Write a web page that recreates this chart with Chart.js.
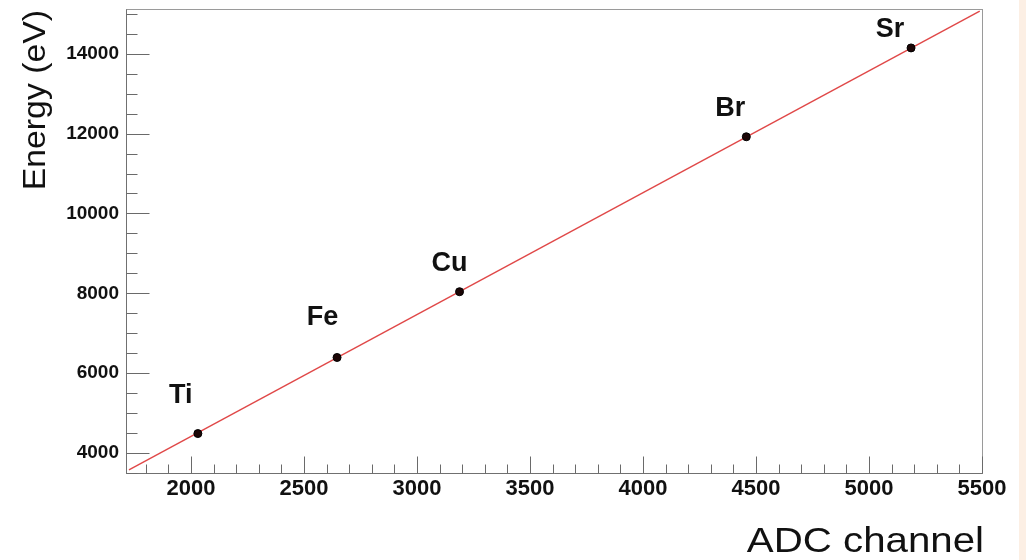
<!DOCTYPE html>
<html>
<head>
<meta charset="utf-8">
<script src="https://cdn.jsdelivr.net/npm/chart.js@4/dist/chart.umd.min.js"></script>
<style>
  html, body { margin: 0; padding: 0; background: #ffffff; }
  #wrap { width: 1026px; height: 560px; position: relative; }
</style>
</head>
<body>
<div id="wrap"><canvas id="c" width="1026" height="560"></canvas></div>
<script>
// ---- data ----
const elements   = ['Ti', 'Fe', 'Cu', 'Br', 'Sr'];
const adcChannel = [2030, 2646, 3188, 4457, 5186];
const energyEV   = [4488, 6393, 8040, 11920, 14145];
// fitted calibration line (end points)
const fitAdc     = [1725, 5490];
const fitEnergy  = [3580, 15066];
// axis ticks
const xTicks = [2000, 2500, 3000, 3500, 4000, 4500, 5000, 5500];
const yTicks = [4000, 6000, 8000, 10000, 12000, 14000];
const xRange = [1712, 5500];
const yRange = [3500, 15120];
const xMinorStep = 100;
const yMinorStep = 500;

const FONT = "'Liberation Sans', Arial, Helvetica, sans-serif";

// label offsets (pixels, relative to each point: centre x, baseline y)
const labelOffsets = [[-17, -31], [-14.5, -32], [-10, -21], [-16, -21], [-21, -11]];

const rootStyle = {
  id: 'rootStyle',
  beforeDraw(chart) {
    const ctx = chart.ctx;
    ctx.save();
    ctx.fillStyle = '#ffffff';
    ctx.fillRect(0, 0, chart.width, chart.height);
    ctx.fillStyle = '#fcefe4';
    ctx.fillRect(1019, 0, 7, chart.height);
    ctx.restore();
  },
  beforeDatasetsDraw(chart) {
    const ctx = chart.ctx;
    const a = chart.chartArea;
    const xs = chart.scales.x, ys = chart.scales.y;
    const L = Math.round(a.left) + 0.5, R = Math.round(a.right) + 0.5;
    const T = Math.round(a.top) + 0.5, B = Math.round(a.bottom) + 0.5;
    ctx.save();
    ctx.lineWidth = 1;
    ctx.strokeStyle = '#9a9a9a';
    ctx.strokeRect(L, T, R - L, B - T);
    ctx.strokeStyle = '#707070';
    ctx.beginPath();
    ctx.moveTo(L, T); ctx.lineTo(L, B); ctx.lineTo(R, B);
    ctx.stroke();
    ctx.strokeStyle = '#6a6a6a';
    ctx.beginPath();
    for (let v = Math.ceil(xRange[0] / xMinorStep) * xMinorStep; v <= xRange[1]; v += xMinorStep) {
      const px = Math.round(xs.getPixelForValue(v)) + 0.5;
      const len = xTicks.includes(v) ? 17 : 9;
      ctx.moveTo(px, B); ctx.lineTo(px, B - len);
    }
    for (let v = Math.ceil(yRange[0] / yMinorStep) * yMinorStep; v <= yRange[1]; v += yMinorStep) {
      const py = Math.round(ys.getPixelForValue(v)) + 0.5;
      const len = yTicks.includes(v) ? 23 : 11;
      ctx.moveTo(L, py); ctx.lineTo(L + len, py);
    }
    ctx.stroke();
    ctx.restore();
  },
  afterDraw(chart) {
    const ctx = chart.ctx;
    const xs = chart.scales.x, ys = chart.scales.y;
    ctx.save();
    ctx.fillStyle = '#111111';
    ctx.font = 'bold 27px ' + FONT;
    ctx.textAlign = 'center';
    ctx.textBaseline = 'alphabetic';
    elements.forEach((el, i) => {
      const px = xs.getPixelForValue(adcChannel[i]);
      const py = ys.getPixelForValue(energyEV[i]);
      ctx.fillText(el, px + labelOffsets[i][0], py + labelOffsets[i][1]);
    });
    ctx.save();
    ctx.font = '35px ' + FONT;
    ctx.textAlign = 'right';
    ctx.translate(984, 552);
    ctx.scale(1.15, 1);
    ctx.fillText('ADC channel', 0, 0);
    ctx.restore();
    ctx.save();
    ctx.font = '31px ' + FONT;
    ctx.textAlign = 'right';
    ctx.translate(45, 10);
    ctx.rotate(-Math.PI / 2);
    ctx.scale(1.09, 1);
    ctx.fillText('Energy (eV)', 0, 0);
    ctx.restore();
    ctx.restore();
  }
};

new Chart(document.getElementById('c'), {
  type: 'scatter',
  data: {
    datasets: [
      {
        label: 'points',
        data: adcChannel.map((x, i) => ({ x: x, y: energyEV[i] })),
        pointRadius: 4,
        pointHoverRadius: 4,
        backgroundColor: '#1c0606',
        borderColor: '#000000',
        borderWidth: 1,
        order: 0
      },
      {
        label: 'fit',
        data: fitAdc.map((x, i) => ({ x: x, y: fitEnergy[i] })),
        showLine: true,
        pointRadius: 0,
        borderColor: '#e04848',
        borderWidth: 1.4,
        order: 1
      }
    ]
  },
  options: {
    responsive: false,
    animation: false,
    events: [],
    layout: { padding: { top: 9, right: 44, left: 0, bottom: 0 } },
    plugins: { legend: { display: false }, tooltip: { enabled: false } },
    scales: {
      x: {
        type: 'linear',
        min: xRange[0], max: xRange[1],
        grid: { display: false, drawTicks: false },
        border: { display: false },
        afterBuildTicks(s) { s.ticks = xTicks.map(v => ({ value: v })); },
        afterFit(s) { s.height = 87; s.paddingLeft = 0; s.paddingRight = 0; },
        ticks: {
          autoSkip: false, maxRotation: 0, padding: 3,
          color: '#111111',
          font: { family: FONT, size: 22, weight: 'bold' },
          callback: v => String(v)
        }
      },
      y: {
        type: 'linear',
        min: yRange[0], max: yRange[1],
        grid: { display: false, drawTicks: false },
        border: { display: false },
        afterBuildTicks(s) { s.ticks = yTicks.map(v => ({ value: v })); },
        afterFit(s) { s.width = 126; s.paddingTop = 0; s.paddingBottom = 0; },
        ticks: {
          autoSkip: false, padding: 7,
          color: '#111111',
          font: { family: FONT, size: 19, weight: 'bold' },
          callback: v => String(v)
        }
      }
    }
  },
  plugins: [rootStyle]
});
</script>
</body>
</html>
